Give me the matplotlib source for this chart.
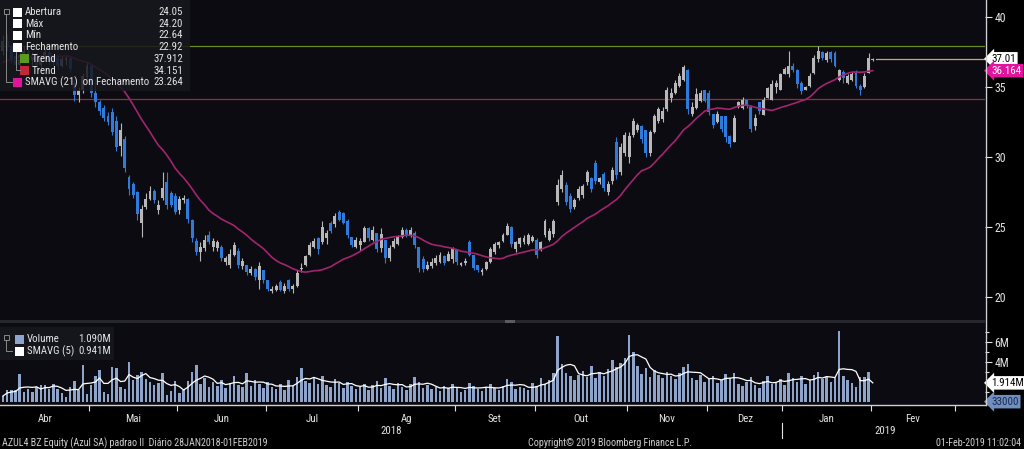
import numpy as np
import pandas as pd
import matplotlib
matplotlib.use("Agg")
import matplotlib.pyplot as plt
import matplotlib.transforms as mtransforms
from matplotlib import font_manager
from matplotlib.patches import Rectangle

# ---- data (AZUL4 daily, Apr 2018 - 01 Feb 2019) ----
holidays = ['2018-05-01', '2018-05-31', '2018-09-07', '2018-10-12', '2018-11-02',
            '2018-11-15', '2018-11-20', '2018-12-24', '2018-12-25', '2018-12-31',
            '2019-01-01', '2019-01-25', '2019-03-04', '2019-03-05']
month_labels = ['Abr', 'Mai', 'Jun', 'Jul', 'Ag', 'Set', 'Out', 'Nov', 'Dez', 'Jan', 'Fev']

# closes before the visible window, only feed the 21-day average
march_closes = [35.2, 35.6, 36.0, 36.4, 36.1, 35.8, 36.3, 36.9, 37.2, 36.8,
                36.5, 36.9, 37.4, 37.0, 36.6, 37.1, 37.5, 37.2, 37.8, 37.4]

opens = [
    # Abr
    37.6, 38.3, 37.9, 37.2, 36.6, 37.3, 37.6, 36.9, 37.3, 36.6, 37.1, 37.5, 36.8, 37.1, 36.5, 36.9, 37.1, 35.3, 34.4, 34.8, 35.7,
    # Mai
    36.5, 34.6, 33.9, 33.5, 32.9, 33.2, 32.6, 30.8, 31.3, 28.6, 28.1, 27.5, 25.3, 26.4, 27.0, 27.6, 26.2, 27.1, 28.2, 27.4, 27.2,
    # Jun
    26.2, 26.9, 27.0, 25.5, 24.0, 23.2, 23.5, 24.4, 23.6, 23.5, 23.6, 22.5, 22.3, 23.0, 23.3, 22.2, 22.3, 21.7, 22.0, 21.2, 21.9,
    # Jul
    21.2, 20.4, 20.5, 21.1, 20.4, 21.2, 20.6, 20.8, 22.0, 22.3, 23.0, 23.6, 24.2, 23.9, 24.2, 25.3, 25.2, 26.1, 26.0, 25.4, 24.3, 23.6,
    # Ag
    23.7, 23.9, 24.9, 24.1, 24.6, 23.5, 24.1, 22.8, 23.6, 23.8, 24.3, 24.8, 24.4, 24.6, 23.6, 22.7, 22.0, 22.2, 22.4, 22.5, 22.9, 22.6, 22.7,
    # Set
    23.4, 22.3, 22.4, 23.9, 23.0, 22.3, 21.8, 22.0, 22.5, 23.2, 23.7, 24.0, 24.4, 25.0, 23.4, 23.8, 23.9, 23.8, 24.0,
    # Out
    24.1, 23.4, 24.4, 24.1, 24.5, 26.8, 27.7, 28.0, 27.2, 26.4, 27.1, 27.3, 28.2, 28.5, 29.6, 28.2, 28.8, 27.5, 28.3, 31.1, 28.9, 30.3,
    # Nov
    30.0, 31.6, 31.9, 32.2, 31.9, 30.3, 31.8, 32.6, 32.7, 33.4, 34.2, 34.6, 35.1, 35.5, 36.2, 33.1, 33.5, 34.0, 34.8,
    # Dez
    34.6, 33.1, 32.5, 32.9, 32.9, 31.5, 31.1, 33.6, 33.5, 34.1, 33.6, 32.2, 33.9, 33.0, 34.2, 34.1, 35.0, 34.8,
    # Jan + Fev
    35.9, 35.9, 36.5, 36.2, 35.3, 34.8, 35.1, 36.0, 37.0, 37.5, 36.9, 37.5, 37.4, 35.5, 36.1, 35.3, 35.5, 36.0, 35.1, 35.0, 36.0, 36.9,
]
highs = [
    38.7, 38.8, 38.1, 37.6, 37.5, 37.9, 37.8, 37.5, 37.5, 37.3, 37.7, 37.6, 37.3, 37.2, 37.2, 37.3, 37.2, 35.5, 35.0, 36.0, 36.8,
    36.7, 35.5, 34.1, 33.7, 33.2, 33.5, 32.9, 32.4, 31.5, 28.7, 28.2, 27.6, 26.6, 27.4, 27.9, 27.7, 26.9, 28.9, 28.9, 27.6, 27.4,
    27.2, 27.3, 27.1, 25.6, 24.2, 23.9, 24.4, 24.7, 24.2, 24.1, 23.7, 22.9, 23.4, 23.9, 23.5, 22.8, 22.3, 22.2, 22.1, 22.5, 21.9,
    21.2, 20.8, 20.9, 21.2, 21.0, 21.3, 20.9, 21.9, 22.4, 23.0, 23.9, 24.2, 24.3, 25.4, 24.8, 25.4, 26.0, 26.2, 26.1, 25.6, 24.3, 24.3,
    24.2, 25.1, 25.0, 25.1, 24.6, 24.9, 24.1, 23.7, 24.2, 24.4, 25.0, 24.9, 25.0, 24.7, 23.6, 22.9, 22.6, 22.8, 23.0, 23.2, 23.0, 23.3, 23.6,
    23.4, 22.5, 22.8, 24.1, 23.0, 22.3, 22.1, 22.6, 23.6, 23.9, 24.0, 24.6, 25.3, 25.1, 24.0, 24.3, 24.4, 24.6, 24.4,
    24.2, 24.0, 25.6, 24.9, 25.6, 28.4, 29.1, 28.2, 27.4, 27.1, 27.9, 28.1, 29.1, 28.6, 29.8, 28.6, 28.9, 28.3, 29.3, 31.4, 31.0, 31.8,
    31.8, 32.8, 32.4, 32.3, 31.9, 31.9, 33.1, 33.6, 33.6, 35.0, 34.9, 35.5, 36.0, 36.6, 36.3, 33.9, 34.9, 34.8, 34.8,
    34.8, 33.1, 33.3, 32.9, 32.9, 31.6, 33.0, 34.0, 34.3, 34.1, 33.7, 33.1, 33.9, 34.3, 35.0, 35.5, 35.5, 36.0,
    36.4, 37.6, 36.7, 36.3, 35.4, 35.1, 36.0, 37.3, 37.95, 37.6, 37.6, 37.6, 37.6, 36.3, 36.2, 35.9, 36.1, 36.2, 35.2, 36.0, 37.4, 37.1,
]
lows = [
    37.3, 37.6, 36.7, 36.4, 36.5, 37.0, 36.7, 36.6, 36.3, 36.4, 36.9, 36.6, 36.6, 36.3, 36.4, 36.6, 36.1, 34.0, 33.9, 34.6, 35.3,
    34.3, 33.6, 33.0, 32.6, 32.3, 31.6, 30.4, 30.1, 28.9, 27.3, 27.1, 25.5, 24.3, 26.3, 26.9, 26.7, 25.9, 26.9, 26.3, 26.4, 25.9,
    25.9, 26.7, 25.3, 23.9, 23.0, 22.6, 23.3, 23.8, 23.3, 23.3, 22.6, 22.3, 22.1, 22.9, 22.1, 22.0, 21.6, 21.6, 21.2, 20.6, 21.0,
    20.4, 20.3, 20.4, 20.4, 20.3, 20.4, 20.3, 20.7, 21.8, 22.2, 22.9, 23.5, 23.1, 23.8, 23.8, 24.6, 25.0, 25.4, 25.2, 24.2, 23.6, 23.5,
    23.3, 23.9, 24.0, 24.0, 23.2, 23.2, 22.4, 22.6, 23.5, 23.7, 24.2, 24.3, 24.3, 23.5, 21.8, 21.8, 21.9, 22.1, 22.3, 22.4, 22.3, 22.6, 22.4,
    22.3, 22.2, 22.3, 22.9, 21.9, 21.8, 21.6, 21.9, 22.4, 23.1, 23.5, 23.9, 24.4, 23.6, 23.2, 23.6, 23.8, 23.7, 23.9,
    22.8, 23.3, 24.3, 24.0, 24.3, 26.6, 27.5, 26.6, 26.1, 26.3, 26.9, 27.1, 28.0, 27.5, 28.1, 28.1, 27.6, 27.3, 28.1, 28.4, 28.7, 30.1,
    29.6, 31.4, 31.8, 31.0, 30.0, 30.1, 31.7, 32.4, 32.5, 33.3, 33.9, 34.5, 35.0, 35.4, 33.1, 32.9, 33.4, 33.9, 33.9,
    33.0, 32.1, 32.4, 31.8, 31.1, 30.7, 31.1, 33.5, 33.4, 33.5, 31.8, 31.9, 33.1, 33.0, 34.2, 34.1, 34.6, 34.8,
    35.9, 35.7, 36.1, 34.9, 34.5, 34.8, 35.0, 35.9, 36.8, 36.9, 36.8, 36.8, 36.4, 35.4, 35.3, 35.2, 35.4, 34.9, 34.4, 34.9, 36.0, 36.85,
]
closes = [
    38.3, 37.9, 37.0, 36.6, 37.3, 37.6, 36.9, 37.3, 36.6, 37.1, 37.5, 36.8, 37.1, 36.5, 37.0, 37.1, 36.3, 34.4, 34.8, 35.8, 36.5,
    34.6, 33.9, 33.3, 32.8, 32.5, 31.8, 30.7, 31.9, 29.2, 27.7, 27.3, 25.9, 26.3, 27.0, 27.6, 26.9, 26.6, 27.8, 26.6, 26.6, 26.1,
    27.0, 27.1, 25.6, 24.2, 23.2, 23.6, 24.1, 23.9, 24.0, 23.9, 22.8, 22.8, 23.1, 23.7, 22.3, 22.6, 21.8, 22.0, 21.4, 22.2, 21.2,
    20.6, 20.6, 20.8, 20.5, 20.8, 20.6, 20.8, 21.7, 22.1, 22.9, 23.7, 24.0, 23.4, 25.0, 24.6, 24.7, 25.8, 25.5, 25.3, 24.4, 23.7, 24.1,
    24.0, 24.9, 24.2, 24.8, 23.4, 24.5, 22.8, 23.5, 24.0, 24.3, 24.8, 24.4, 24.8, 23.7, 22.1, 22.0, 22.3, 22.5, 22.8, 23.0, 22.4, 23.1, 23.4,
    22.5, 22.4, 22.6, 23.0, 22.1, 21.9, 21.9, 22.5, 23.4, 23.8, 23.9, 24.4, 25.1, 23.8, 23.9, 24.2, 24.2, 24.4, 24.3,
    23.0, 23.9, 25.4, 24.7, 25.4, 28.0, 28.7, 26.8, 26.3, 26.9, 27.7, 27.9, 28.9, 27.7, 28.3, 28.5, 27.8, 28.1, 29.1, 28.7, 30.7, 31.6,
    31.5, 32.6, 32.3, 31.3, 30.3, 31.8, 32.9, 33.4, 33.3, 34.8, 34.6, 35.3, 35.8, 36.4, 33.4, 33.6, 34.5, 34.6, 34.0,
    33.2, 32.3, 33.1, 32.0, 31.4, 30.9, 32.8, 33.9, 34.1, 33.7, 32.0, 32.8, 33.3, 34.1, 34.9, 35.2, 35.3, 35.9,
    36.3, 36.5, 36.2, 35.2, 34.7, 35.0, 35.8, 37.1, 37.6, 37.1, 37.4, 37.0, 36.5, 36.2, 35.63, 35.8, 35.9, 35.1, 34.8, 35.8, 37.1, 37.01,
]
volumes_m = [
    0.6, 1.2, 1.2, 1.2, 2.8, 1.0, 1.3, 1.0, 1.5, 1.7, 1.7, 1.3, 1.8, 1.3, 0.9, 0.5, 1.5, 2.1, 1.2, 3.7, 0.8,
    1.7, 2.6, 3.2, 1.0, 0.8, 3.5, 3.4, 1.5, 1.3, 4.0, 2.2, 2.7, 3.0, 2.3, 2.0, 1.7, 1.9, 2.9, 0.7, 1.1, 2.1,
    0.9, 1.2, 2.1, 3.0, 3.7, 1.8, 2.4, 1.5, 2.0, 1.6, 2.2, 1.4, 1.9, 2.6, 1.7, 1.5, 2.9, 1.6, 2.2, 1.8, 1.4,
    2.0, 1.5, 1.3, 1.8, 1.2, 2.2, 1.6, 2.5, 3.4, 2.1, 1.9, 2.4, 1.8, 2.6, 1.7, 1.5, 2.3, 1.9, 1.4, 2.0, 1.6, 1.3,
    1.5, 1.8, 1.2, 1.7, 2.1, 1.4, 2.4, 1.6, 1.3, 1.9, 1.5, 1.2, 1.8, 2.5, 2.0, 1.4, 1.7, 1.3, 1.5, 1.1, 1.6, 1.4, 1.8,
    1.4, 1.0, 1.2, 1.9, 1.6, 1.3, 1.1, 1.5, 1.8, 1.4, 1.2, 1.6, 2.3, 2.0, 1.3, 1.5, 1.4, 1.2, 1.9,
    1.6, 2.4, 1.8, 2.2, 2.9, 6.6, 3.8, 2.9, 2.6, 2.2, 2.7, 3.1, 2.5, 3.6, 2.4, 3.0, 2.6, 3.3, 4.2, 3.5, 3.9, 4.4,
    6.7, 5.0, 3.6, 2.8, 3.4, 2.5, 3.2, 2.7, 2.4, 3.0, 2.6, 2.3, 2.9, 3.5, 3.8, 2.4, 2.2, 2.7, 2.0,
    2.3, 2.6, 1.9, 2.2, 2.8, 2.4, 2.9, 1.8, 1.6, 2.0, 2.5, 1.7, 1.4, 2.1, 2.6, 1.8, 1.9, 2.3,
    1.7, 2.9, 2.4, 2.0, 2.6, 1.8, 2.2, 2.7, 3.0, 2.3, 2.5, 2.0, 2.4, 7.1, 2.6, 2.2, 1.9, 1.5, 2.5, 2.535, 3.0, 0.033,
]
trend_hi = 37.912
trend_lo = 34.151

# ---- style ----
names = {f.name for f in font_manager.fontManager.ttflist}
FONT = next((f for f in ['Roboto Condensed', 'Liberation Sans Narrow', 'Open Sans Condensed',
                         'Roboto', 'DejaVu Sans'] if f in names), 'DejaVu Sans')
plt.rcParams['font.family'] = FONT
plt.rcParams['font.stretch'] = 'condensed'

W, H = 1024, 449
BG = '#0b0b11'
UP = '#b8b8b8'
DOWN = '#2f7bdc'
VOL = '#8ea4ca'
MAG = '#e0159b'
MAG_LINE = '#a3246f'
GREEN = '#6a8a2a'
RED = '#a8233c'
TXT = '#e4e4e4'
FS = 7.8
LFS = 7.8

fig = plt.figure(figsize=(W / 100, H / 100), dpi=100, facecolor='black')


def fbox(x0, y0, x1, y1):
    return [x0 / W, 1 - y1 / H, (x1 - x0) / W, (y1 - y0) / H]


ax = fig.add_axes(fbox(0, 0, 985, 320), facecolor=BG)
axv = fig.add_axes(fbox(0, 323, 985, 405), facecolor=BG)

n = len(closes)
idx = np.arange(n)
o, h, l, c = map(np.array, (opens, highs, lows, closes))
cols = np.where(c >= o, UP, DOWN)
XMAX = 233.7

# candles
ax.vlines(idx, l, h, colors=cols, linewidth=0.8, zorder=3)
ax.bar(idx, np.maximum(np.abs(c - o), 0.08), bottom=np.minimum(o, c), width=0.7,
       color=cols, linewidth=0, zorder=3)

sma21 = pd.Series(march_closes + closes).rolling(21).mean().to_numpy()[len(march_closes):]
ax.plot(idx, sma21, color=MAG_LINE, lw=1.2, zorder=4)
ax.axhline(trend_hi, color=GREEN, lw=0.9, zorder=2)
ax.axhline(trend_lo, color=RED, lw=0.9, zorder=2)
ax.plot([n - 0.3, XMAX], [closes[-1]] * 2, color='#d9a06a', lw=0.9, zorder=2)

ax.set_xlim(-0.7, XMAX)
ax.set_ylim(18.36, 41.21)
ax.yaxis.tick_right()
ax.set_yticks([20, 25, 30, 35, 40])
ax.tick_params(axis='y', colors=TXT, labelsize=8.5, length=5, width=0.8, pad=2)
ax.tick_params(axis='x', bottom=False, labelbottom=False)
for s in ax.spines.values():
    s.set_visible(False)


def tag(axis, y, text, fc, tc):
    axis.annotate(text, xy=(1, y), xycoords=axis.get_yaxis_transform(),
                  xytext=(4.5, 0), textcoords='offset points', ha='left', va='center',
                  fontsize=7.9, color=tc, annotation_clip=False, zorder=10,
                  bbox=dict(boxstyle='larrow,pad=0.16', fc=fc, ec='none'))


tag(ax, closes[-1], f'{closes[-1]:.2f}', 'white', 'black')
tag(ax, sma21[-1], f'{sma21[-1]:.3f}', MAG, 'white')

# volume panel
vol = np.array(volumes_m)
sma5 = pd.Series(volumes_m).rolling(5, min_periods=1).mean().to_numpy()
axv.bar(idx, vol, width=0.6, color=VOL, linewidth=0, zorder=3)
axv.plot(idx, sma5, color='white', lw=0.9, zorder=4)
axv.set_xlim(-0.7, XMAX)
axv.set_ylim(-0.3, 7.9)
axv.yaxis.tick_right()
axv.set_yticks([2, 4, 6])
axv.set_yticklabels(['', '4M', '6M'])
axv.set_yticks([1, 3, 5, 7], minor=True)
axv.tick_params(axis='y', which='both', colors=TXT, labelsize=8.5, length=5, width=0.8, pad=2)
axv.tick_params(axis='y', which='minor', length=3)
for s in axv.spines.values():
    s.set_visible(False)
tag(axv, sma5[-1], f'{sma5[-1]:.3f}M', 'white', 'black')
tag(axv, vol[-1], f'{vol[-1] * 1e6:.0f}', '#6f8fc0', '#1a2a50')

# month axis from trading calendar
cal = pd.bdate_range('2018-04-02', '2019-03-29')
cal = cal[~cal.isin(pd.to_datetime(holidays))]
per = cal.to_period('M')
starts = [i for i in range(len(cal)) if i == 0 or per[i] != per[i - 1]]
bounds = [s - 0.5 for s in starts[1:]]
centers = [(starts[k] + starts[k + 1] - 1) / 2 for k in range(len(month_labels))]
axv.set_xticks(bounds)
axv.set_xticklabels([])
axv.set_xticks(centers, minor=True)
axv.set_xticklabels(month_labels, minor=True)
axv.tick_params(axis='x', which='major', colors=TXT, length=4, width=0.8)
axv.tick_params(axis='x', which='minor', colors=TXT, length=0, pad=6.5, labelsize=FS)

blend = mtransforms.blended_transform_factory(axv.transData, axv.transAxes)
jan = starts[9]
axv.text((starts[0] + jan - 1) / 2, -0.32, '2018', transform=blend, ha='center', va='center',
         fontsize=FS, color=TXT)
axv.text((jan + XMAX) / 2, -0.32, '2019', transform=blend, ha='center', va='center',
         fontsize=FS, color=TXT)
axv.plot([jan - 0.5] * 2, [-0.22, -0.40], transform=blend, clip_on=False, color=TXT, lw=0.8)

# overlay in pixel coordinates for frame, legends, footer
ov = fig.add_axes([0, 0, 1, 1], zorder=20)
ov.set_xlim(0, W)
ov.set_ylim(H, 0)
ov.axis('off')
ov.patch.set_alpha(0)

ov.add_patch(Rectangle((0, 320), 985, 3, fc='#26262d', ec='none'))
ov.add_patch(Rectangle((505, 320), 10, 3, fc='#5a5a64', ec='none'))
ov.plot([985.5, 985.5], [0, 405], color='#d0d0d0', lw=1)
ov.plot([0, 985.5], [405, 405], color='#d0d0d0', lw=1)

# price legend
ov.add_patch(Rectangle((0, 0), 190, 91, fc='#17171e', ec='none', alpha=0.85))
leg_items = [
    ('Abertura', '24.05', 'white', 13),
    ('Máx', '24.20', 'white', 13),
    ('Mín', '22.64', 'white', 13),
    ('Fechamento', '22.92', 'white', 13),
    ('Trend', f'{trend_hi:.3f}', '#5a9a1e', 20),
    ('Trend', f'{trend_lo:.3f}', '#c4263a', 20),
    ('SMAVG (21)  on Fechamento', '23.264', MAG, 13),
]
for k, (lab, val, sw, x0) in enumerate(leg_items):
    y = 12 + 11.7 * k
    ov.add_patch(Rectangle((x0, y - 4.5), 9, 9, fc=sw, ec='none'))
    ov.text(x0 + 12, y, lab, color=TXT, fontsize=LFS, va='center', ha='left')
    ov.text(183, y, val, color=TXT, fontsize=LFS, va='center', ha='right')
ov.add_patch(Rectangle((3.5, 9), 5, 5, fc='none', ec='#9a9a9a', lw=0.6))
ov.plot([6, 6, 12], [14, 82, 82], color='#9a9a9a', lw=0.6)
ov.plot([16, 16, 20], [52, 70, 70], color='#9a9a9a', lw=0.6)

# volume legend
ov.add_patch(Rectangle((0, 327), 114, 33, fc='#17171e', ec='none', alpha=0.9))
for k, (lab, val, sw) in enumerate([('Volume', '1.090M', VOL), ('SMAVG (5)', '0.941M', 'white')]):
    y = 339 + 12 * k
    ov.add_patch(Rectangle((15, y - 4.5), 9, 9, fc=sw, ec='none'))
    ov.text(27, y, lab, color=TXT, fontsize=LFS, va='center', ha='left')
    ov.text(111, y, val, color=TXT, fontsize=LFS, va='center', ha='right')
ov.add_patch(Rectangle((3.5, 335), 5, 5, fc='none', ec='#9a9a9a', lw=0.6))
ov.plot([6, 6, 12], [340, 351, 351], color='#9a9a9a', lw=0.6)

# footer
ov.text(2, 443, 'AZUL4 BZ Equity (Azul SA) padrao II  Diário 28JAN2018-01FEB2019',
        color='#cfcfcf', fontsize=7.2, va='center', ha='left')
ov.text(610, 443, 'Copyright© 2019 Bloomberg Finance L.P.', color='#cfcfcf',
        fontsize=7.2, va='center', ha='center')
ov.text(1021, 443, '01-Feb-2019 11:02:04', color='#cfcfcf', fontsize=7.2,
        va='center', ha='right')

fig.savefig('out.png', dpi=100, facecolor='black')
